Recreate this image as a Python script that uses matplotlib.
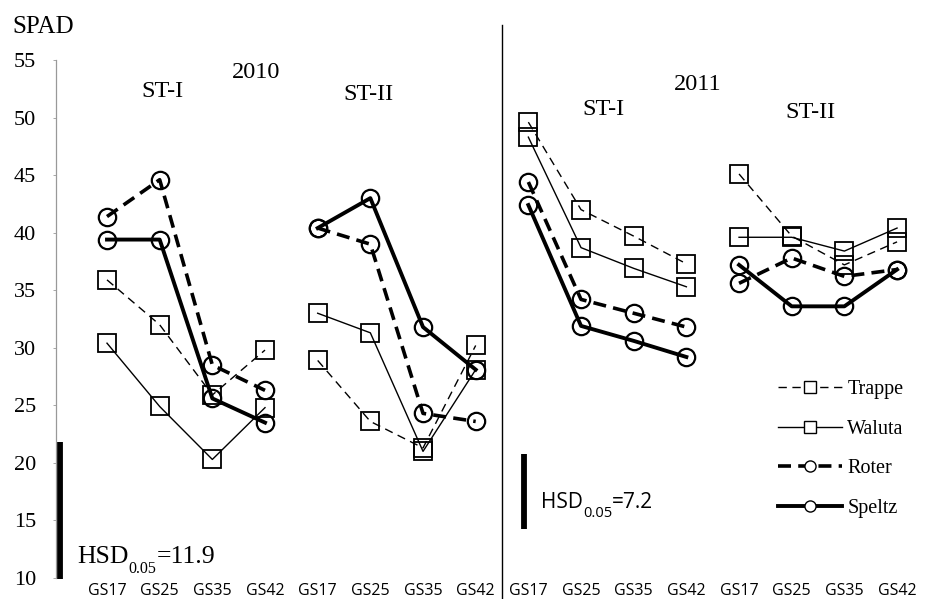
import matplotlib
matplotlib.use("Agg")
import matplotlib.pyplot as plt
import numpy as np
from matplotlib.lines import Line2D

# ---- data ----
stages = ["GS17", "GS25", "GS35", "GS42"]
panel_titles = ["ST-I", "ST-II", "ST-I", "ST-II"]
years = ["2010", "2011"]
cultivars = ["Trappe", "Waluta", "Roter", "Speltz"]

# values per panel: 2010 ST-I, 2010 ST-II, 2011 ST-I, 2011 ST-II
trappe = [[35.9, 32.0, 25.9, 29.8], [28.9, 23.6, 21.3, 30.2],
          [49.6, 42.0, 39.7, 37.3], [45.1, 39.7, 37.2, 39.2]]
waluta = [[30.4, 24.9, 20.3, 24.8], [33.0, 31.3, 21.0, 28.1],
          [48.3, 38.7, 36.9, 35.3], [39.6, 39.6, 38.4, 40.4]]
roter = [[41.4, 44.6, 28.5, 26.3], [40.4, 39.0, 24.3, 23.6],
         [44.4, 34.2, 33.0, 31.8], [35.6, 37.8, 36.2, 36.8]]
speltz = [[39.4, 39.4, 25.6, 23.5], [40.4, 43.0, 31.8, 28.1],
          [42.4, 31.9, 30.6, 29.2], [37.2, 33.6, 33.6, 36.8]]

hsd_labels = ["11.9", "7.2"]
hsd_low = [9.9, 14.3]
hsd_high = [21.8, 20.8]

# ---- styles ----
styles = {
    "Trappe": dict(ls=(0, (6, 4)), lw=1.0, marker="s", mew=1.3),
    "Waluta": dict(ls="-", lw=1.0, marker="s", mew=1.3),
    "Roter": dict(ls=(0, (3.6, 2.0)), lw=2.6, marker="o", mew=1.6),
    "Speltz": dict(ls="-", lw=2.8, marker="o", mew=1.6),
}
series = {"Trappe": trappe, "Waluta": waluta, "Roter": roter, "Speltz": speltz}

W, H = 928, 599
fig = plt.figure(figsize=(W / 100, H / 100), dpi=100)
serif = "Liberation Serif"
sans = "Open Sans"

ax_l, ax_r = 56, 928
y_top, y_bot = 60, 578
ax = fig.add_axes([ax_l / W, (H - y_bot) / H, (ax_r - ax_l) / W, (y_bot - y_top) / H])
ax.set_facecolor("none")

n = len(stages)
for name in cultivars:
    st = styles[name]
    for p, vals in enumerate(series[name]):
        x = np.arange(n) + p * n
        ax.plot(x, vals, color="black", ls=st["ls"], lw=st["lw"], marker=st["marker"],
                ms=12.5, mfc="none", mec="black", mew=st["mew"], zorder=3)

step = 52.67
x0px = 107
ax.set_xlim((ax_l - x0px) / step, (ax_r - x0px) / step)
ax.set_ylim(10, 55)

ax.set_xticks(np.arange(4 * n))
ax.set_xticklabels(stages * 4, fontfamily=sans, fontsize=11.5)
ax.tick_params(axis="x", length=0, pad=3.5)
ax.set_yticks(np.arange(10, 56, 5))
ax.set_yticklabels([str(v) for v in range(10, 56, 5)], fontfamily=serif, fontsize=16)
ax.tick_params(axis="y", length=2.5, width=0.6, color="#999999", pad=12)
for s in ["top", "right", "bottom"]:
    ax.spines[s].set_visible(False)
ax.spines["left"].set_color("#999999")
ax.spines["left"].set_linewidth(0.9)

# separator between years
ax.plot([2 * n - 0.5, 2 * n - 0.5], [-0.045, 1.068], color="black", lw=1.0,
        transform=ax.get_xaxis_transform(), clip_on=False)

# HSD bars
hsd_x = [(60 - x0px) / step, (524 - x0px) / step]
for i in range(2):
    ax.plot([hsd_x[i], hsd_x[i]], [hsd_low[i], hsd_high[i]], color="black", lw=4.2,
            solid_capstyle="butt", clip_on=False)

def hsd_text(xp, yb, val, family, fs, fs_sub, sub_drop):
    t1 = fig.text(xp / W, 1 - yb / H, "HSD", fontfamily=family, fontsize=fs, va="baseline")
    t2 = fig.text(0, 0, "0.05", fontfamily=family, fontsize=fs_sub, va="baseline")
    t3 = fig.text(0, 0, "=" + val, fontfamily=family, fontsize=fs, va="baseline")
    fig.canvas.draw()
    r = fig.canvas.get_renderer()
    bb1 = t1.get_window_extent(r)
    t2.set_position((bb1.x1 / W, 1 - (yb + sub_drop) / H))
    fig.canvas.draw()
    bb2 = t2.get_window_extent(r)
    t3.set_position((bb2.x1 / W, 1 - yb / H))

hsd_text(77, 563, hsd_labels[0], serif, 18.5, 11.5, 10)
hsd_text(541, 508, hsd_labels[1], sans, 15, 10.5, 9)

# titles
def ftext(xp, yb, s, fs=17.5, ha="center", family=serif):
    fig.text(xp / W, 1 - yb / H, s, fontfamily=family, fontsize=fs, ha=ha, va="baseline")

ftext(12, 33, "SPAD", fs=18, ha="left")
ftext(256, 78, years[0])
ftext(162, 97, panel_titles[0])
ftext(368, 100, panel_titles[1])
ftext(698, 90, years[1])
ftext(603, 115, panel_titles[2])
ftext(810, 118, panel_titles[3])

# legend
handles = []
for name in cultivars:
    st = styles[name]
    handles.append(Line2D([], [], color="black", ls=st["ls"], lw=st["lw"], marker=st["marker"],
                          ms=8, mfc="white", mec="black", mew=1.0))
leg = fig.legend(handles, cultivars, loc="upper left",
                 bbox_to_anchor=(778 / W, 1 - 380 / H), bbox_transform=fig.transFigure,
                 frameon=False, borderpad=0, borderaxespad=0, handlelength=3.2,
                 handletextpad=0.25, labelspacing=1.02, prop=dict(family=serif, size=14.5))

fig.savefig("out.png", dpi=100)
